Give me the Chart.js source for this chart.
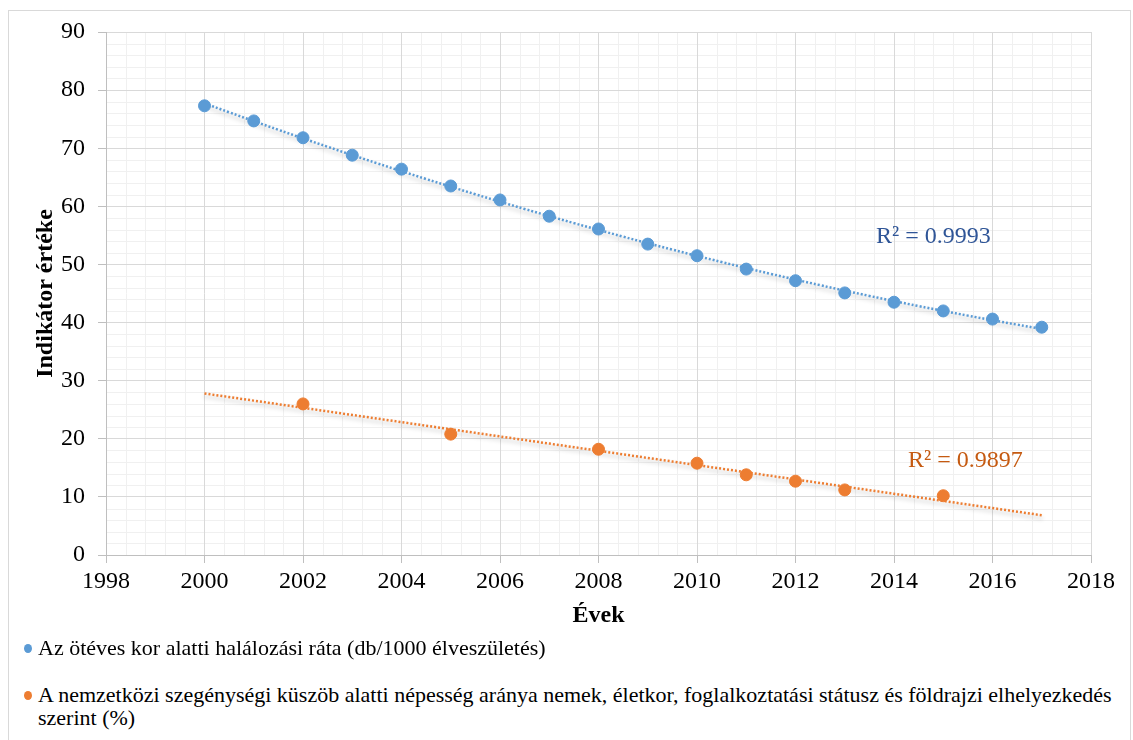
<!DOCTYPE html>
<html>
<head>
<meta charset="utf-8">
<script src="https://cdn.jsdelivr.net/npm/chart.js@4"></script>
<style>
  body { margin: 0; background: #fff; font-family: "Liberation Serif", "Times New Roman", serif; }
  #frame { position: absolute; left: 8px; top: 10px; width: 1123px; height: 740px; border: 1px solid #d9d9d9; box-sizing: border-box; }
  #wrap { position: absolute; left: 0; top: 0; width: 1133px; height: 650px; }
  .leg { position: absolute; left: 24px; font-size: 22px; line-height: 23px; color: #000; white-space: nowrap; }
  .leg .dot { display: inline-block; width: 8px; height: 9px; border-radius: 50%; margin-right: 6px; vertical-align: 2px; }
</style>
</head>
<body>
<div id="frame"></div>
<div id="wrap"><canvas id="chart" width="1133" height="650"></canvas></div>
<div class="leg" style="top:636px"><span class="dot" style="background:#5b9bd5"></span>Az ötéves kor alatti halálozási ráta (db/1000 élveszületés)</div>
<div class="leg" style="top:683px"><span class="dot" style="background:#ed7d31"></span>A nemzetközi szegénységi küszöb alatti népesség aránya nemek, életkor, foglalkoztatási státusz és földrajzi elhelyezkedés<br><span style="padding-left:14px">szerint (%)</span></div>
<script>
// Under-5 mortality
const mortYears = [2000, 2001, 2002, 2003, 2004, 2005, 2006, 2007, 2008, 2009, 2010, 2011, 2012, 2013, 2014, 2015, 2016, 2017];
const mortValues = [77.3, 74.7, 71.8, 68.8, 66.4, 63.5, 61.1, 58.3, 56.1, 53.5, 51.5, 49.2, 47.2, 45.1, 43.5, 42.0, 40.6, 39.2];

// Poverty rate
const povYears = [2002, 2005, 2008, 2010, 2011, 2012, 2013, 2015];
const povValues = [26.0, 20.8, 18.2, 15.8, 13.8, 12.7, 11.2, 10.2];

const r2Labels = ['R² = 0.9993', 'R² = 0.9897'];
const trendStart = 2000, trendEnd = 2017;

// least squares polynomial fit (x centred on 2000)
function polyfit(xs, ys, deg) {
    const n = deg + 1;
    const A = [], b = [];
    for (let i = 0; i < n; i++) {
        A.push(new Array(n).fill(0));
        b.push(0);
    }
    xs.forEach((x, k) => {
        const t = x - 2000;
        for (let i = 0; i < n; i++) {
            b[i] += ys[k] * Math.pow(t, i);
            for (let j = 0; j < n; j++) A[i][j] += Math.pow(t, i + j);
        }
    });
    for (let c = 0; c < n; c++) {
        for (let r = c + 1; r < n; r++) {
            const f = A[r][c] / A[c][c];
            for (let j = c; j < n; j++) A[r][j] -= f * A[c][j];
            b[r] -= f * b[c];
        }
    }
    const coef = new Array(n).fill(0);
    for (let r = n - 1; r >= 0; r--) {
        let s = b[r];
        for (let j = r + 1; j < n; j++) s -= A[r][j] * coef[j];
        coef[r] = s / A[r][r];
    }
    return coef;
}

function trendPoints(xs, ys, deg) {
    const coef = polyfit(xs, ys, deg);
    const pts = [];
    for (let x = trendStart; x <= trendEnd + 1e-9; x += 0.5) {
        const t = x - 2000;
        pts.push({ x: x, y: coef.reduce((s, c, i) => s + c * Math.pow(t, i), 0) });
    }
    return pts;
}

const serif = '"Liberation Serif", "Times New Roman", serif';

// light minor grid lines, drawn before everything else
const minorGrid = {
    id: 'minorGrid',
    beforeDraw(chart) {
        const { ctx, chartArea: a, scales: { x, y } } = chart;
        ctx.save();
        ctx.strokeStyle = '#f0f0f0';
        ctx.lineWidth = 1;
        ctx.beginPath();
        for (let i = 0; i <= 50; i++) {
            if (i % 5 === 0) continue;
            const px = Math.round(x.getPixelForValue(1998 + i * 0.4)) + 0.5;
            ctx.moveTo(px, a.top);
            ctx.lineTo(px, a.bottom);
        }
        for (let i = 0; i <= 45; i++) {
            if (i % 5 === 0) continue;
            const py = Math.round(y.getPixelForValue(i * 2)) + 0.5;
            ctx.moveTo(a.left, py);
            ctx.lineTo(a.right, py);
        }
        ctx.stroke();
        ctx.restore();
    }
};

// soft shadow under the trend lines
const trendShadow = {
    id: 'trendShadow',
    beforeDatasetDraw(chart, args) {
        if (!args.meta.dataset || !chart.data.datasets[args.index].trend) return;
        const ctx = chart.ctx;
        ctx.shadowColor = 'rgba(0,0,0,0.28)';
        ctx.shadowBlur = 4;
        ctx.shadowOffsetY = 3;
    },
    afterDatasetDraw(chart) {
        const ctx = chart.ctx;
        ctx.shadowColor = 'rgba(0,0,0,0)';
        ctx.shadowBlur = 0;
        ctx.shadowOffsetY = 0;
    }
};

// R² labels
const r2Text = {
    id: 'r2Text',
    afterDatasetsDraw(chart) {
        const { ctx, scales: { x, y } } = chart;
        ctx.save();
        ctx.font = '24px ' + serif;
        ctx.textAlign = 'center';
        ctx.textBaseline = 'middle';
        ctx.fillStyle = '#2f5597';
        ctx.fillText(r2Labels[0], x.getPixelForValue(2014.8), y.getPixelForValue(54.7));
        ctx.fillStyle = '#c55a11';
        ctx.fillText(r2Labels[1], x.getPixelForValue(2015.45), y.getPixelForValue(16.3));
        ctx.restore();
    }
};

const ctx = document.getElementById('chart').getContext('2d');
new Chart(ctx, {
    type: 'scatter',
    data: {
        datasets: [{
            label: 'mortality',
            data: mortYears.map((yr, i) => ({ x: yr, y: mortValues[i] })),
            backgroundColor: '#5b9bd5',
            borderColor: '#5b9bd5',
            pointRadius: 6,
            order: 0
        }, {
            label: 'poverty',
            data: povYears.map((yr, i) => ({ x: yr, y: povValues[i] })),
            backgroundColor: '#ed7d31',
            borderColor: '#ed7d31',
            pointRadius: 6,
            order: 0
        }, {
            label: 'mortality trend',
            trend: true,
            data: trendPoints(mortYears, mortValues, 2),
            showLine: true,
            borderColor: '#5b9bd5',
            borderWidth: 2.5,
            borderDash: [2, 2],
            pointRadius: 0,
            tension: 0.4,
            order: 1
        }, {
            label: 'poverty trend',
            trend: true,
            data: trendPoints(povYears, povValues, 1),
            showLine: true,
            borderColor: '#ed7d31',
            borderWidth: 2.5,
            borderDash: [2, 2],
            pointRadius: 0,
            order: 1
        }]
    },
    options: {
        responsive: false,
        animation: false,
        layout: { padding: { left: 27, right: 42, top: 32, bottom: 16 } },
        plugins: {
            legend: { display: false },
            tooltip: { enabled: false }
        },
        scales: {
            x: {
                type: 'linear',
                min: 1998,
                max: 2018,
                afterFit: s => { s.height = 79; },
                ticks: {
                    stepSize: 2,
                    padding: 4,
                    color: '#000',
                    font: { family: serif, size: 24 },
                    callback: v => String(v)
                },
                grid: { color: '#d9d9d9', tickColor: '#bfbfbf', tickLength: 8 },
                border: { color: '#bfbfbf' },
                title: {
                    display: true,
                    text: 'Évek',
                    color: '#000',
                    font: { family: serif, size: 24, weight: 'bold' }
                }
            },
            y: {
                min: 0,
                max: 90,
                afterFit: s => { s.width = 79; },
                ticks: {
                    stepSize: 10,
                    padding: 13,
                    color: '#000',
                    font: { family: serif, size: 24 }
                },
                grid: { color: '#d9d9d9', tickColor: '#bfbfbf', tickLength: 8 },
                border: { color: '#bfbfbf' },
                title: {
                    display: true,
                    text: 'Indikátor értéke',
                    color: '#000',
                    font: { family: serif, size: 24, weight: 'bold' }
                }
            }
        }
    },
    plugins: [minorGrid, trendShadow, r2Text]
});
</script>
</body>
</html>
